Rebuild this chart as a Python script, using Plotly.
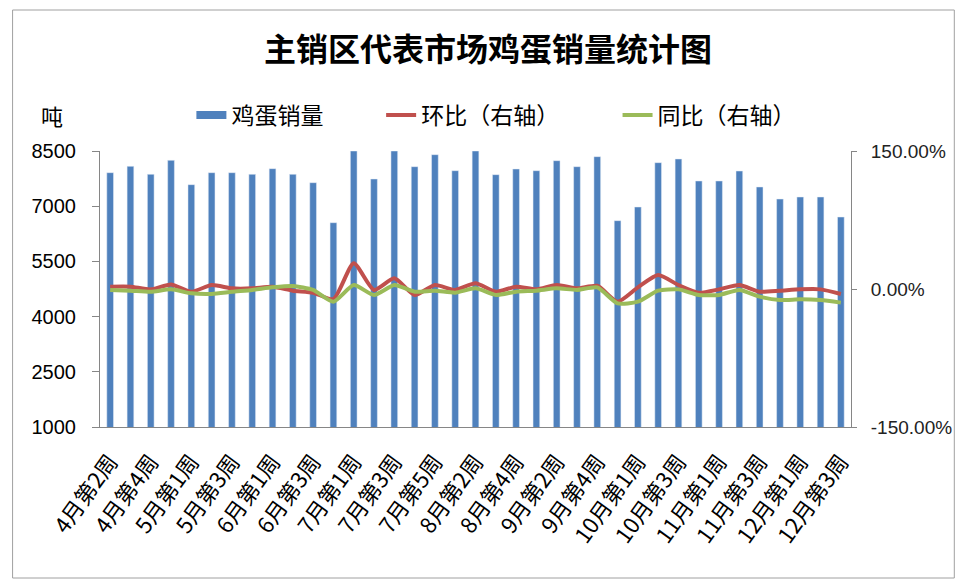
import plotly.graph_objects as go

categories = [
    "4月第2周", "4月第3周", "4月第4周", "4月第5周", "5月第1周", "5月第2周", "5月第3周", "5月第4周",
    "6月第1周", "6月第2周", "6月第3周", "6月第4周", "7月第1周", "7月第2周", "7月第3周", "7月第4周",
    "7月第5周", "8月第1周", "8月第2周", "8月第3周", "8月第4周", "9月第1周", "9月第2周", "9月第3周",
    "9月第4周", "9月第5周", "10月第1周", "10月第2周", "10月第3周", "10月第4周", "11月第1周", "11月第2周",
    "11月第3周", "11月第4周", "12月第1周", "12月第2周", "12月第3周",
]
volume = [7911, 8083, 7866, 8246, 7585, 7911, 7911, 7866, 8020, 7866, 7639, 6552, 8500, 7739,
          8500, 8074, 8400, 7965, 8500, 7857, 8011, 7965, 8237, 8074, 8346, 6607, 6978, 8183,
          8283, 7685, 7685, 7956, 7522, 7195, 7250, 7250, 6706]
mom = [2.5, 2.5, -0.4, 5.0, -3.0, 4.3, 0.7, 0.7, 2.5, -1.8, -4.0, -11.0, 28.0, -1.0, 11.6, -6.5,
       4.3, -1.0, 6.2, -2.9, 2.5, -0.4, 4.3, 0.7, 3.5, -13.8, 1.8, 15.2, 4.3, -4.0, -0.4, 4.3,
       -2.9, -1.8, -0.4, -0.4, -5.4]
yoy = [-1.0, -1.8, -3.0, -0.4, -4.7, -5.4, -3.0, -1.0, 1.8, 3.3, -1.0, -13.8, 4.3, -6.5, 4.3, -2.9,
       -1.8, -4.0, 0.7, -6.5, -2.9, -1.8, 0.7, -1.0, 1.8, -15.6, -13.8, -1.8, -0.4, -6.5, -6.5, -1.0,
       -8.3, -12.0, -11.2, -12.0, -14.8]
left_ticks = [1000, 2500, 4000, 5500, 7000, 8500]
right_ticks = [-150, 0, 150]
right_tick_labels = ["-150.00%", "0.00%", "150.00%"]
series_names = ["鸡蛋销量", "环比（右轴）", "同比（右轴）"]
title_text = "主销区代表市场鸡蛋销量统计图"
unit_text = "吨"

BLUE = "#4F81BD"
RED = "#C0504D"
GREEN = "#9BBB59"
AXIS = "#868686"
FONT = "Noto Sans CJK SC"

fig = go.Figure()
fig.add_trace(go.Bar(x=categories, y=volume, marker_color=BLUE, name=series_names[0],
                     showlegend=False, yaxis="y"))
# legend-only entry with a line swatch for the bars
fig.add_trace(go.Scatter(x=[None], y=[None], mode="lines", line=dict(color=BLUE, width=8),
                         name=series_names[0], legend="legend"))
fig.add_trace(go.Scatter(x=categories, y=mom, mode="lines", name=series_names[1],
                         line=dict(color=RED, width=4, shape="spline", smoothing=0.6),
                         yaxis="y2", legend="legend2"))
fig.add_trace(go.Scatter(x=categories, y=yoy, mode="lines", name=series_names[2],
                         line=dict(color=GREEN, width=4, shape="spline", smoothing=0.6),
                         yaxis="y2", legend="legend3"))

L, R, T, B = 100, 108, 151, 154
W, H = 964, 581
pw, ph = W - L - R, H - T - B

def px(x):
    return (x - L) / pw

def py(y):
    return (H - B - y) / ph

leg_common = dict(orientation="h", yanchor="middle", xanchor="left", bgcolor="rgba(0,0,0,0)",
                  font=dict(family=FONT, size=23, color="#000000"))

fig.update_layout(
    width=W, height=H,
    margin=dict(l=L, r=R, t=T, b=B),
    paper_bgcolor="white", plot_bgcolor="white",
    bargap=0.67,
    font=dict(family=FONT, color="#000000"),
    title=dict(text="<b>" + title_text + "</b>", x=488 / W, xanchor="center",
               y=1 - 50 / H, yanchor="middle", yref="container",
               font=dict(family=FONT, size=32, color="#000000")),
    xaxis=dict(type="category", tickmode="array", tickvals=categories[::2], ticktext=categories[::2],
               tickangle=-54, tickfont=dict(family=FONT, size=22, color="#000000"),
               showline=True, linecolor=AXIS, linewidth=1, ticks="", showgrid=False,
               ticklabelstandoff=12, range=[-0.5, len(categories) - 0.5]),
    yaxis=dict(range=[1000, 8500], tickvals=left_ticks, showline=True, linecolor=AXIS, linewidth=1,
               ticks="outside", ticklen=7, tickcolor=AXIS, showgrid=False, zeroline=False,
               tickfont=dict(family="Liberation Sans", size=20, color="#000000"), ticklabelstandoff=12),
    yaxis2=dict(range=[-150, 150], tickmode="array", tickvals=right_ticks, ticktext=right_tick_labels,
                overlaying="y", side="right", showline=True, linecolor=AXIS, linewidth=1,
                ticks="outside", ticklen=5, tickcolor=AXIS, showgrid=False, zeroline=False,
                tickfont=dict(family="Liberation Sans", size=19, color="#222222"), ticklabelstandoff=10),
    legend=dict(x=px(192), y=py(115), **leg_common),
    legend2=dict(x=px(383), y=py(115), **leg_common),
    legend3=dict(x=px(621), y=py(115), **leg_common),
    annotations=[dict(text=unit_text, x=px(52), y=py(115), xref="paper", yref="paper",
                      xanchor="center", yanchor="middle", showarrow=False,
                      font=dict(family=FONT, size=22, color="#000000"))],
    shapes=[dict(type="rect", xref="paper", yref="paper", x0=px(12), x1=px(960), y0=py(578), y1=py(10),
                 line=dict(color="#A0A0A0", width=1), layer="below")],
)

fig.write_html("out.html", config={"displayModeBar": False},
               post_script="document.body.style.margin='0px';")
